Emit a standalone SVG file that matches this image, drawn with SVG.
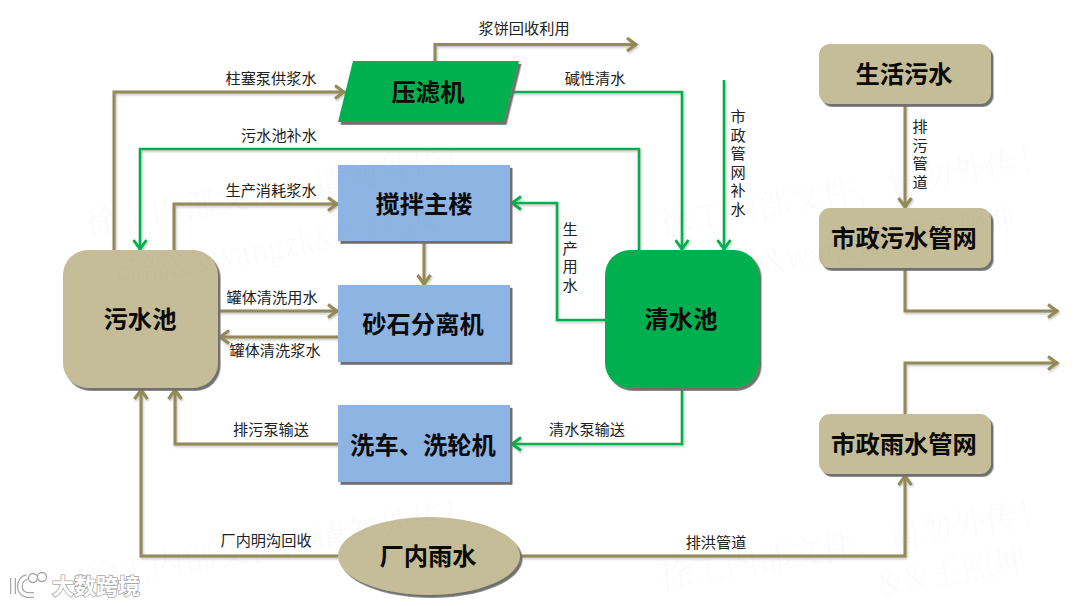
<svg xmlns="http://www.w3.org/2000/svg" width="1080" height="606" viewBox="0 0 1080 606">
<style>
text{font-family:"Noto Sans CJK SC","Noto Sans",sans-serif}
.n{filter:url(#ns)}
.t{fill:#C4BD97}.g{fill:#00B050}.b{fill:#8EB4E3}
.nt{font-size:24.300px;font-weight:700;fill:#0a0a0a;text-anchor:middle}
.l{font-size:15.200px;fill:#222;text-anchor:middle}
.c{fill:none;stroke-linejoin:miter}
.ct{stroke:#948A54;stroke-width:3;marker-end:url(#at)}
.cg{stroke:#00B050;stroke-width:2.600;marker-end:url(#ag)}
.wm{font-family:"Noto Serif CJK SC","Noto Sans CJK SC",serif;font-size:33px;fill:#808080;opacity:.028}
.logo{font-size:22px;font-weight:700;fill:#fff;stroke:#a8a8a8;stroke-width:1.600;paint-order:stroke}
</style>
<defs>
<filter id="ns" x="-10%" y="-10%" width="125%" height="125%"><feDropShadow dx="2.500" dy="2.800" stdDeviation="0.600" flood-color="#6f6f6f" flood-opacity="1"/></filter>
<filter id="ls" x="-5%" y="-5%" width="110%" height="110%"><feDropShadow dx="1" dy="1.500" stdDeviation="1" flood-color="#777" flood-opacity=".45"/></filter>
<marker id="at" markerUnits="userSpaceOnUse" markerWidth="16" markerHeight="18" viewBox="-12 -9 16 18" refX="0" refY="0" orient="auto"><path d="M-10,-6.500 L-1,0 L-10,6.500" fill="none" stroke="#948A54" stroke-width="3"/></marker>
<marker id="ag" markerUnits="userSpaceOnUse" markerWidth="16" markerHeight="18" viewBox="-12 -9 16 18" refX="0" refY="0" orient="auto"><path d="M-10,-6.500 L-1,0 L-10,6.500" fill="none" stroke="#00B050" stroke-width="2.800"/></marker>
</defs>
<rect width="1080" height="606" fill="#fff"/>

<g id="connectors" class="c" filter="url(#ls)">
<path class="ct" d="M435,61V44.500H637"/>
<path class="ct" d="M114,250V92H345"/>
<path class="cg" d="M508,92H682V250"/>
<path class="cg" d="M639,250V149H140V250"/>
<path class="cg" d="M724,80V250"/>
<path class="ct" d="M174,250V204H338"/>
<path class="cg" d="M605,320H557V203H511"/>
<path class="ct" d="M424,241V285"/>
<path class="ct" d="M219,311H338"/>
<path class="ct" d="M338,337H219"/>
<path class="ct" d="M338,444H175V389"/>
<path class="cg" d="M682,388V444H511"/>
<path class="ct" d="M338,556H141V389"/>
<path class="ct" d="M520,556H905V475"/>
<path class="ct" d="M905,104V208"/>
<path class="ct" d="M905,268V311H1058"/>
<path class="ct" d="M905,414V363H1058"/>
</g>

<g id="n-press"><polygon class="n g" points="353,61 519,61 504,122 338,122"/><text class="nt" x="428" y="101">压滤机</text></g>
<g id="n-mixer"><rect class="n b" x="338" y="165" width="172" height="76"/><text class="nt" x="424" y="213">搅拌主楼</text></g>
<g id="n-separator"><rect class="n b" x="338" y="285" width="172" height="77"/><text class="nt" x="423" y="333">砂石分离机</text></g>
<g id="n-wash"><rect class="n b" x="338" y="405" width="172" height="77"/><text class="nt" x="423" y="454">洗车、洗轮机</text></g>
<g id="n-sewage-pool"><rect class="n t" x="63" y="250" width="155" height="138" rx="25"/><text class="nt" x="140" y="328">污水池</text></g>
<g id="n-clean-pool"><rect class="n g" x="605" y="250" width="154" height="138" rx="25"/><text class="nt" x="681" y="328">清水池</text></g>
<g id="n-domestic"><rect class="n t" x="819" y="44" width="172" height="60" rx="11"/><text class="nt" x="904" y="83">生活污水</text></g>
<g id="n-muni-sewage"><rect class="n t" x="819" y="208" width="172" height="60" rx="11"/><text class="nt" x="904" y="247">市政污水管网</text></g>
<g id="n-muni-rain"><rect class="n t" x="819" y="414" width="172" height="60" rx="11"/><text class="nt" x="904" y="453">市政雨水管网</text></g>
<g id="n-rain"><ellipse class="n t" cx="429" cy="556" rx="91" ry="39"/><text class="nt" x="428" y="565">厂内雨水</text></g>

<g id="labels">
<text class="l" x="524" y="34">浆饼回收利用</text>
<text class="l" x="271" y="84">柱塞泵供浆水</text>
<text class="l" x="595" y="84">碱性清水</text>
<text class="l" x="279" y="141">污水池补水</text>
<text class="l" x="271" y="196">生产消耗浆水</text>
<text class="l" x="272" y="303">罐体清洗用水</text>
<text class="l" x="275" y="356">罐体清洗浆水</text>
<text class="l" x="271" y="435">排污泵输送</text>
<text class="l" x="587" y="435">清水泵输送</text>
<text class="l" x="266" y="546">厂内明沟回收</text>
<text class="l" x="716" y="548">排洪管道</text>
<text class="l" y="122"><tspan x="738">市</tspan><tspan x="738" dy="18.500">政</tspan><tspan x="738" dy="18.500">管</tspan><tspan x="738" dy="18.500">网</tspan><tspan x="738" dy="18.500">补</tspan><tspan x="738" dy="18.500">水</tspan></text>
<text class="l" y="132"><tspan x="920">排</tspan><tspan x="920" dy="18.500">污</tspan><tspan x="920" dy="18.500">管</tspan><tspan x="920" dy="18.500">道</tspan></text>
<text class="l" y="235"><tspan x="570">生</tspan><tspan x="570" dy="18.500">产</tspan><tspan x="570" dy="18.500">用</tspan><tspan x="570" dy="18.500">水</tspan></text>
</g>

<g id="watermark">
<text class="wm" transform="translate(88 236) rotate(-10)">徐工内部文件，请勿外传！</text>
<text class="wm" transform="translate(88 292) rotate(-10)" textLength="360" lengthAdjust="spacingAndGlyphs">市场部&amp;&amp;wangzk&amp;&amp;王照坤</text>
<text class="wm" transform="translate(662 236) rotate(-10)">徐工内部文件，请勿外传！</text>
<text class="wm" transform="translate(662 292) rotate(-10)" textLength="360" lengthAdjust="spacingAndGlyphs">市场部&amp;&amp;wangzk&amp;&amp;王照坤</text>
<text class="wm" transform="translate(88 590) rotate(-10)">徐工内部文件，请勿外传！</text>
<text class="wm" transform="translate(662 590) rotate(-10)">徐工内部文件，请勿外传！</text>
<text class="wm" transform="translate(880 596) rotate(-10)">&amp;&amp;王照坤</text>
</g>

<g id="logo">
<g fill="none" stroke="#a8a8a8" stroke-width="6"><path d="M13,578V594"/><path d="M27,577C18,579 17,593 27,595H34"/></g>
<g fill="none" stroke="#fff" stroke-width="3.500"><path d="M13,578V594"/><path d="M27,577C18,579 17,593 27,595H34"/></g>
<g fill="#fff" stroke="#a8a8a8" stroke-width="1.400"><circle cx="33" cy="578" r="4.500"/><circle cx="42" cy="577" r="4.500"/></g>
<text class="logo" x="52" y="594">大数跨境</text>
</g>
</svg>
